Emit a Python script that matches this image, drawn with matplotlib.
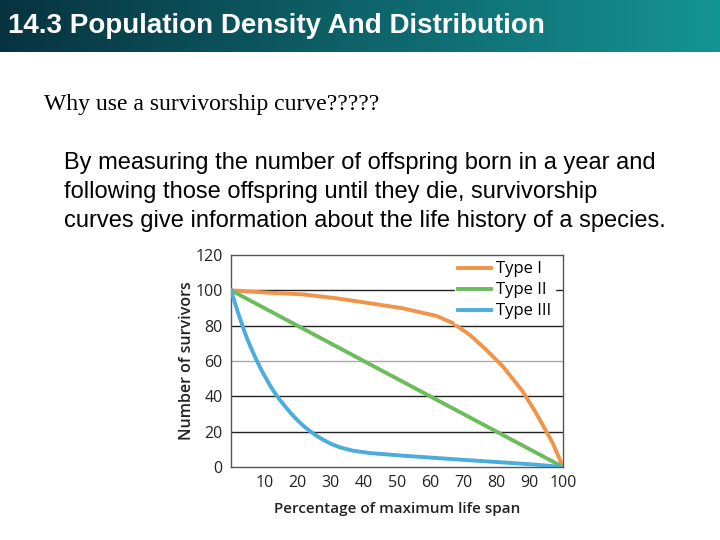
import numpy as np
import matplotlib.pyplot as plt

# survivorship curves
x_type1 = [0, 10, 21.8, 31.8, 41.8, 51.8, 61.9, 66.9, 71.9, 76.9, 81.9, 87.9, 91.9, 96.9, 100]
y_type1 = [100, 98.8, 97.7, 95.5, 92.7, 89.8, 85.5, 81.4, 74.8, 66.3, 56.9, 42.7, 30.5, 13.6, 0]

x_type2 = [0, 100]
y_type2 = [100, 0]

x_type3 = [0, 1, 2, 3, 4, 5, 6, 7, 8, 9, 10, 11.5, 13, 14.5, 16, 18, 20, 22, 24, 26, 28, 30,
           33, 36.8, 41.8, 51.8, 61.9, 71.9, 81.9, 91.9, 100]
y_type3 = [100, 94, 88, 82.5, 77, 72, 67.5, 63.3, 59.3, 55.5, 52, 47, 42.5, 38.5, 35, 30.5, 26.5,
           23, 20, 17.4, 15.2, 13.2, 11, 9.2, 7.9, 6.4, 5.1, 3.8, 2.6, 1.3, 0]

labels = ['Type I', 'Type II', 'Type III']
grid_levels = [20, 40, 60, 80, 100]
grid_colors = ['#222222', '#222222', '#aaaaaa', '#222222', '#222222']
x_ticks = [10, 20, 30, 40, 50, 60, 70, 80, 90, 100]
y_ticks = [0, 20, 40, 60, 80, 100, 120]

orange = '#ef9448'
green = '#6bbd5c'
blue = '#4aaddc'

fig = plt.figure(figsize=(7.2, 5.4), dpi=100)

# header banner
hdr = fig.add_axes([0, 1 - 52 / 540, 1, 52 / 540])
grad = np.linspace(0, 1, 256)
banner = np.zeros((1, 256, 3))
banner[0, :, 0] = 0.03 + 0.05 * grad
banner[0, :, 1] = 0.20 + 0.38 * grad
banner[0, :, 2] = 0.25 + 0.33 * grad
hdr.imshow(banner, aspect='auto', extent=[0, 1, 0, 1])
hdr.set_axis_off()
hdr.text(0.011, 0.5, '14.3 Population Density And Distribution', color='white',
         fontsize=20, fontweight='bold', family='Liberation Sans', va='center', ha='left')

fig.text(44 / 720, 1 - 104 / 540, 'Why use a survivorship curve?????', family='Liberation Serif',
         fontsize=17, va='center', ha='left')
body = ['By measuring the number of offspring born in a year and',
        'following those offspring until they die, survivorship',
        'curves give information about the life history of a species.']
for i, line in enumerate(body):
    fig.text(64 / 720, 1 - (163 + 29 * i) / 540, line, family='Liberation Sans',
             fontsize=17, va='center', ha='left')

ax = fig.add_axes([231 / 720, 1 - 467 / 540, 332 / 720, 212 / 540])
for lvl, c in zip(grid_levels, grid_colors):
    ax.axhline(lvl, color=c, lw=1, zorder=1)
ax.plot(x_type1, y_type1, color=orange, lw=2.8, label=labels[0], solid_joinstyle='round', zorder=3)
ax.plot(x_type2, y_type2, color=green, lw=2.8, label=labels[1], zorder=3)
ax.plot(x_type3, y_type3, color=blue, lw=2.8, label=labels[2], solid_joinstyle='round', zorder=3)

ax.set_xlim(0, 100)
ax.set_ylim(0, 120)
ax.set_xticks(x_ticks)
ax.set_yticks(y_ticks)
ax.tick_params(length=0, labelsize=11.5, labelcolor='#222222', pad=6)
for lab in ax.get_xticklabels() + ax.get_yticklabels():
    lab.set_family('Open Sans')
for s in ax.spines.values():
    s.set_color('#555555')
    s.set_linewidth(1)
ax.set_xlabel('Percentage of maximum life span', family='Open Sans', fontsize=11,
              fontweight='semibold', color='#222222', labelpad=8)
ax.set_ylabel('Number of survivors', family='Open Sans', fontsize=11.5,
              fontweight='semibold', color='#222222', labelpad=0)

leg = ax.legend(loc='upper right', bbox_to_anchor=(1.0, 1.025), frameon=True, fancybox=False,
                edgecolor='white', facecolor='white', framealpha=1, borderpad=0.2,
                handlelength=2.0, handletextpad=0.3, labelspacing=0.3,
                prop={'family': 'Open Sans', 'size': 12})
leg.set_zorder(5)

fig.savefig('out.png', dpi=100)
